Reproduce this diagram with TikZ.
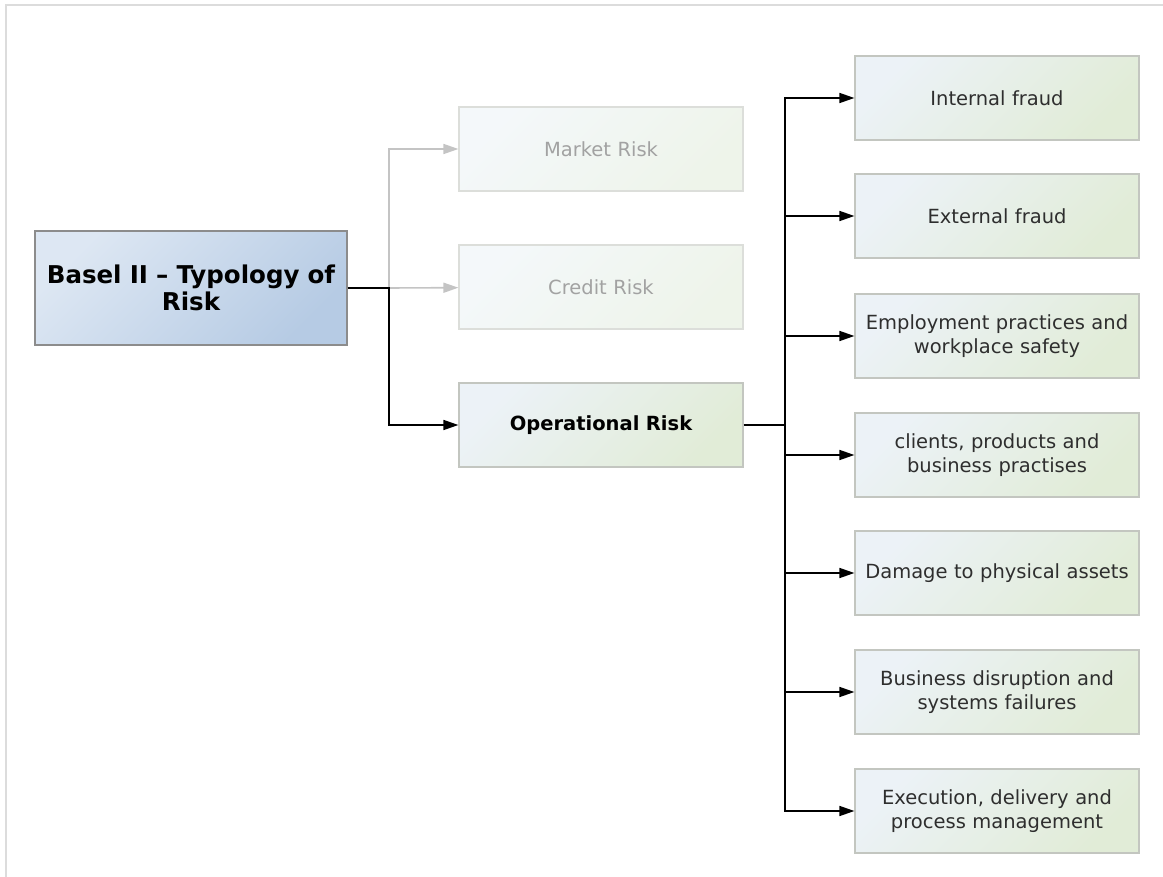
\documentclass[tikz,border=0pt]{standalone}
\usepackage{fontspec}
\setmainfont{DejaVu Sans}
\usetikzlibrary{arrows.meta}
\definecolor{frameline}{HTML}{DCDCDC}
\definecolor{boxtl}{HTML}{ECF2F7}
\definecolor{boxbr}{HTML}{E1ECD7}
\definecolor{boxline}{HTML}{C3C6C0}
\definecolor{roottl}{HTML}{DDE7F3}
\definecolor{rootbr}{HTML}{B6CBE4}
\definecolor{rootline}{HTML}{8C8C8C}
\definecolor{fadetl}{HTML}{F4F8FA}
\definecolor{fadebr}{HTML}{EEF4EA}
\definecolor{fadeline}{HTML}{DCDEDA}
\definecolor{fadetext}{HTML}{A2A2A2}
\definecolor{fadearrow}{HTML}{C4C4C4}
\definecolor{leaftext}{HTML}{2E2E2E}
\tikzstyle{riskbox}=[draw=boxline, line width=1.2pt, inner sep=0pt,
  minimum width=284pt, minimum height=84pt, text width=276pt, align=center,
  top color=boxtl, bottom color=boxbr, shading angle=45,
  text=leaftext, font=\fontsize{19.5}{24}\selectfont]
\tikzstyle{fadedbox}=[riskbox, draw=fadeline, top color=fadetl, bottom color=fadebr,
  shading angle=45, text=fadetext]
\tikzstyle{rootbox}=[riskbox, draw=rootline, minimum width=312pt, minimum height=114pt,
  text width=306pt, top color=roottl, bottom color=rootbr, shading angle=45,
  text=black, font=\fontsize{24.5}{27}\selectfont\bfseries]
\tikzstyle{arrowline}=[line width=1.6pt, -{Triangle[length=15pt,width=10pt]}]
\tikzstyle{fadedline}=[arrowline, draw=fadearrow]

\begin{document}
\begin{tikzpicture}[x=1pt, y=-1pt]
  \useasboundingbox (0,0) rectangle (1163,877);
  \draw[frameline, line width=2.5pt] (6,877) -- (6,5) -- (1163,5);

  \node[rootbox] (root) at (191,288) {Basel II -- Typology of\\Risk};
  \node[fadedbox] (market) at (601,149) {Market Risk};
  \node[fadedbox] (credit) at (601,287) {Credit Risk};
  \node[riskbox, text=black, font=\fontsize{19.5}{24}\selectfont\bfseries]
    (oprisk) at (601,425) {Operational Risk};

  \coordinate (rootsplit) at (389,288);
  \coordinate (opsplit) at (785,425);

  % branches of the root
  \draw[fadedline] (rootsplit) |- (market);
  \draw[fadedline] (rootsplit) -- (credit);
  \draw[arrowline] (root.east) -- (rootsplit) |- (oprisk);

  % kinds of operational risk
  \foreach \name/\y/\txt in {
      internal/98/{Internal fraud},
      external/216/{External fraud},
      employ/336/{Employment practices and\\workplace safety},
      clients/455/{clients, products and\\business practises},
      damage/573/{Damage to physical assets},
      disrupt/692/{Business disruption and\\systems failures},
      execute/811/{Execution, delivery and\\process management}}
    \node[riskbox] (\name) at (997,\y) {\txt};

  \draw[line width=1.6pt] (oprisk.east) -- (opsplit);
  \foreach \name in {internal,external,employ,clients,damage,disrupt,execute}
    \draw[arrowline] (opsplit) |- (\name);
\end{tikzpicture}
\end{document}
